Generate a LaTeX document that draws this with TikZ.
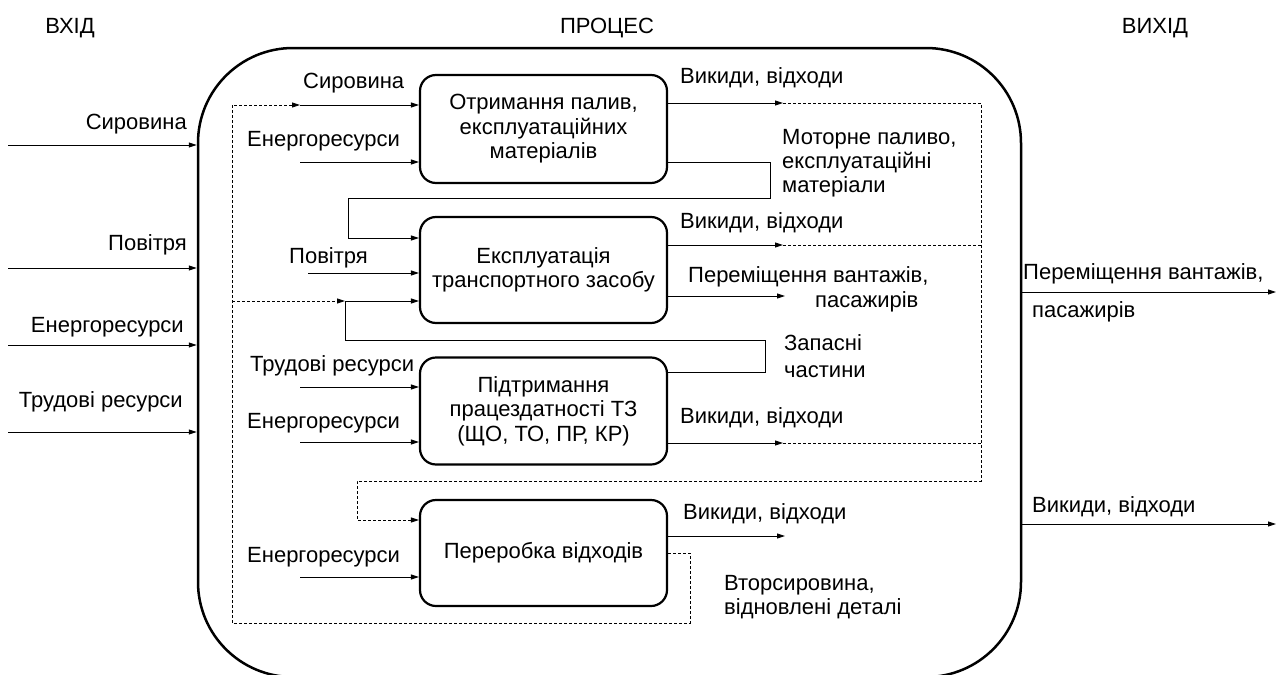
\documentclass[tikz,border=0pt]{standalone}
\usepackage{fontspec}
\setmainfont{Liberation Sans}
\usetikzlibrary{arrows.meta}
\begin{document}
\begin{tikzpicture}[x=1pt,y=-1pt,
  lbl/.style={inner sep=0pt, font=\fontsize{22}{25}\selectfont},
  lw/.style={lbl, anchor=base west},
  le/.style={lbl, anchor=base east},
  proc/.style={draw, line width=2.2pt, rounded corners=16pt, minimum width=247pt, align=center, font=\fontsize{22}{24.5}\selectfont, inner sep=0pt},
  arr/.style={line width=0.9pt, -{Triangle[length=8pt,width=5pt]}},
  dsh/.style={line width=0.9pt, dash pattern=on 3pt off 2pt},
  darr/.style={dsh, -{Triangle[length=8pt,width=5pt]}}]
\useasboundingbox (0,0) rectangle (1278,675);
\fill[white] (0,0) rectangle (1278,675);
% titles
\node[lbl, anchor=base] (tin) at (70,33) {ВХІД};
\node[lbl, anchor=base] (tproc) at (607,33) {ПРОЦЕС};
\node[lbl, anchor=base] (tout) at (1155,33) {ВИХІД};
% system boundary
\node[draw, line width=2.5pt, rounded corners=95pt, minimum width=823pt, minimum height=629pt, inner sep=0pt] (sys) at (609.5,362.5) {};
% process boxes
\node[proc, minimum height=108pt] (b1) at (543.5,129) {Отримання палив,\\експлуатаційних\\матеріалів};
\node[proc, minimum height=106pt] (b2) at (543.5,270) {Експлуатація\\транспортного засобу};
\node[proc, minimum height=107pt] (b3) at (543.5,411) {Підтримання\\працездатності ТЗ\\(ЩО, ТО, ПР, КР)};
\node[proc, minimum height=106pt] (b4) at (543.5,553) {Переробка відходів};
% outer inputs
\coordinate (x1) at (8,145);
\coordinate (x2) at (8,268);
\coordinate (x3) at (8,345);
\coordinate (x4) at (8,432);
\foreach \c in {x1,x2,x3,x4} \draw[arr] (\c) -- (\c -| sys.west);
\node[le] (lx1) at (187,129) {Сировина};
\node[le] (lx2) at (187,250) {Повітря};
\node[le] (lx3) at (184,332) {Енергоресурси};
\node[le] (lx4) at (183,407) {Трудові ресурси};
% outer outputs
\coordinate (y1) at (1276,292);
\coordinate (y2) at (1276,524);
\draw[arr] (y1 -| sys.east) -- (y1);
\draw[arr] (y2 -| sys.east) -- (y2);
\node[lw] (ly1a) at (1023,279) {Переміщення вантажів,};
\node[lw] (ly1b) at (1032,317) {пасажирів};
\node[lw] (ly2) at (1032,512) {Викиди, відходи};
% box 1 inputs
\coordinate (sr) at (300,105);
\coordinate (e1) at (300,162);
\draw[arr] (sr) -- (sr -| b1.west);
\draw[arr] (e1) -- (e1 -| b1.west);
\node[lw] (ls1) at (303,88) {Сировина};
\node[lw] (le1) at (247,146) {Енергоресурси};
% recycled loop (dashed)
\coordinate (w4) at (690,623);
\coordinate (wl) at (232,623);
\coordinate (br) at (232,301);
\coordinate (sp) at (345,301);
\draw[darr] (b4.east) -| (w4) -- (wl) |- (sr);
\draw[darr] (br) -- (sp);
% motor fuel
\coordinate (m1) at (770,162);
\coordinate (m2) at (348,198);
\coordinate (m3) at (348,238);
\draw[arr] (m1 -| b1.east) -- (m1) |- (m2) -- (m3) -- (m3 -| b2.west);
\node[lw] (lm1) at (782,144) {Моторне паливо,};
\node[lw] (lm2) at (782,168) {експлуатаційні};
\node[lw] (lm3) at (782,192) {матеріали};
% box 2 inputs
\coordinate (a2) at (308,273);
\draw[arr] (a2) -- (a2 -| b2.west);
\node[lw] (la2) at (289,263) {Повітря};
% spare parts
\coordinate (s1) at (765,372);
\coordinate (s2) at (345,340);
\draw[arr] (s1 -| b3.east) -- (s1) |- (s2) -- (sp) -- (sp -| b2.west);
\node[lw] (lsp1) at (784,350) {Запасні};
\node[lw] (lsp2) at (784,377) {частини};
% box 3 inputs
\coordinate (t3) at (300,387);
\coordinate (e3) at (300,442);
\draw[arr] (t3) -- (t3 -| b3.west);
\draw[arr] (e3) -- (e3 -| b3.west);
\node[lw] (lt3) at (250,371) {Трудові ресурси};
\node[lw] (le3) at (247,428) {Енергоресурси};
% box 4 inputs
\coordinate (e4) at (300,577);
\draw[arr] (e4) -- (e4 -| b4.west);
\node[lw] (le4) at (247,562) {Енергоресурси};
% outputs: wastes
\coordinate (o1) at (783,103);
\coordinate (o2) at (783,245);
\coordinate (o3) at (783,443);
\coordinate (o4) at (785,536);
\coordinate (p2) at (785,296);
\coordinate (d1) at (981,103);
\coordinate (d2) at (981,481);
\coordinate (d3) at (357,481);
\coordinate (d4) at (357,520);
\draw[arr] (o1 -| b1.east) -- (o1);
\draw[arr] (o2 -| b2.east) -- (o2);
\draw[arr] (o3 -| b3.east) -- (o3);
\draw[arr] (o4 -| b4.east) -- (o4);
\draw[arr] (p2 -| b2.east) -- (p2);
\draw[darr] (o1) -- (d1) -- (d2) -- (d3) -- (d4) -- (d4 -| b4.west);
\draw[dsh] (o2) -- (o2 -| d1);
\draw[dsh] (o3) -- (o3 -| d1);
\node[lw] (lo1) at (680,83) {Викиди, відходи};
\node[lw] (lo2) at (680,228) {Викиди, відходи};
\node[lw] (lp2a) at (688,282) {Переміщення вантажів,};
\node[lw] (lp2b) at (815,307) {пасажирів};
\node[lw] (lo3) at (680,423) {Викиди, відходи};
\node[lw] (lo4) at (683,519) {Викиди, відходи};
\node[lw] (lv1) at (724,590) {Вторсировина,};
\node[lw] (lv2) at (724,614) {відновлені деталі};
\end{tikzpicture}
\end{document}
